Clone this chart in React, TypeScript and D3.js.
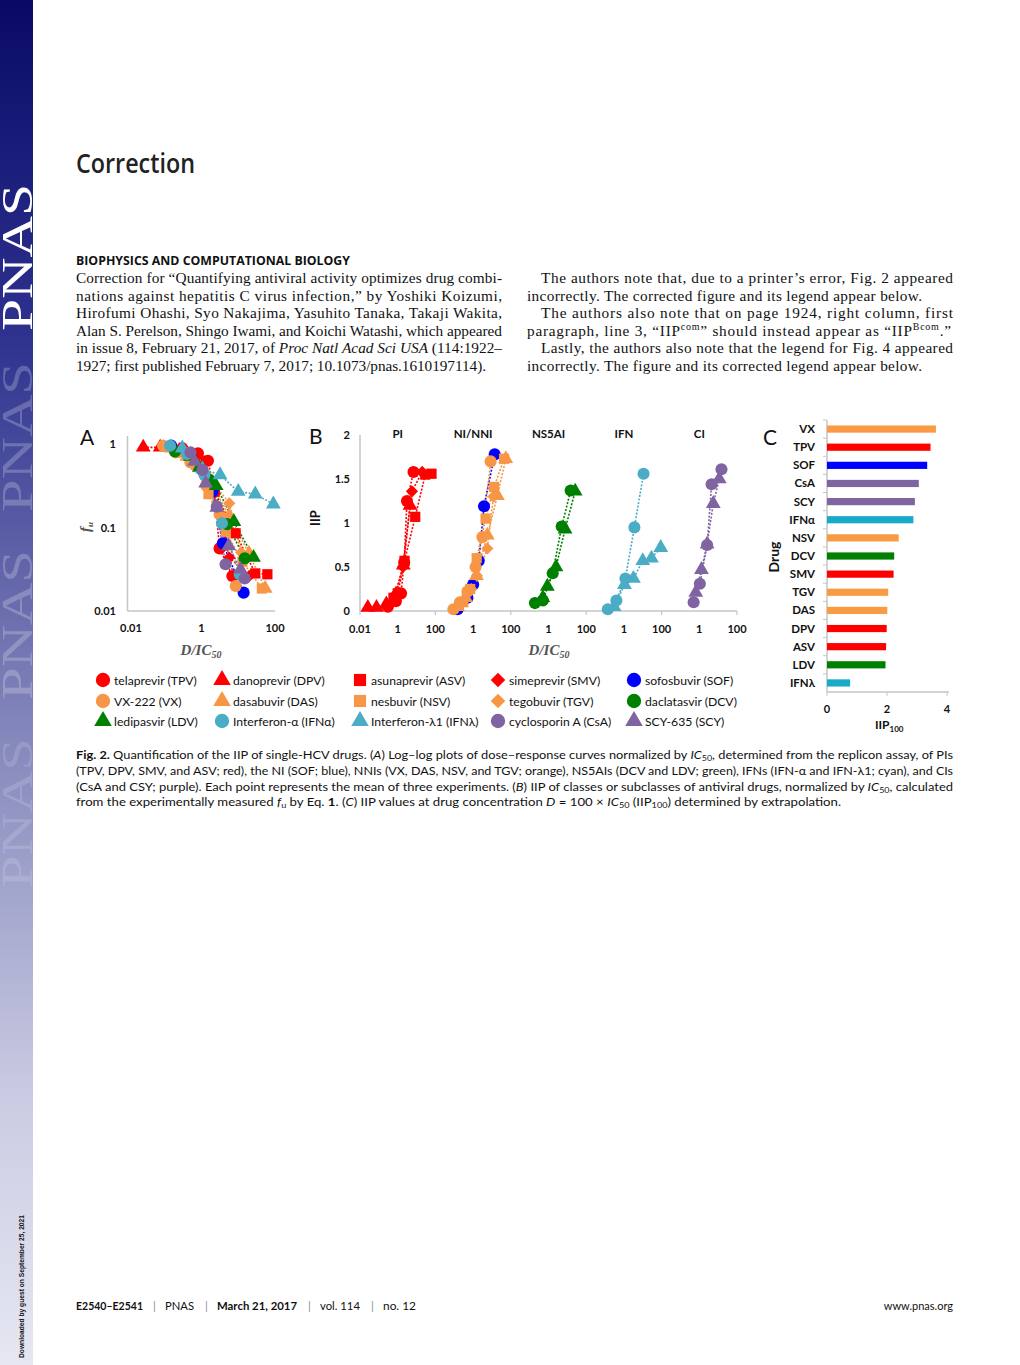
import React from "react";
import * as d3 from "d3";

// ---------------- data ----------------
// legend order (row-major) and drug codes
const drugCodes = ["TPV", "DPV", "ASV", "SMV", "SOF", "VX", "DAS", "NSV", "TGV", "DCV", "LDV", "IFNa", "IFNl", "CsA", "SCY"];
const drugNames = [
  "telaprevir (TPV)", "danoprevir (DPV)", "asunaprevir (ASV)", "simeprevir (SMV)", "sofosbuvir (SOF)",
  "VX-222 (VX)", "dasabuvir (DAS)", "nesbuvir (NSV)", "tegobuvir (TGV)", "daclatasvir (DCV)",
  "ledipasvir (LDV)", "Interferon-α (IFNα)", "Interferon-λ1 (IFNλ)", "cyclosporin A (CsA)", "SCY-635 (SCY)",
];
// points: [D/IC50, IIP]  (fu = 10^-IIP)
const TPV_pts = [[0.3, 0.05], [0.8, 0.11], [1.5, 0.2], [2.2, 0.55], [3.1, 1.25], [6.9, 1.58]];
const DPV_pts = [[0.026, 0.04], [0.075, 0.04], [0.25, 0.08], [0.8, 0.19], [2.0, 0.52], [4.5, 1.2]];
const ASV_pts = [[0.6, 0.15], [1.0, 0.2], [2.3, 0.57], [8.5, 1.07], [29, 1.55], [62, 1.56]];
const SMV_pts = [[0.7, 0.18], [1.9, 0.5], [5.7, 1.36], [20, 1.58]];
const SOF_pts = [[0.15, 0.02], [0.5, 0.15], [1.0, 0.3], [2.0, 0.57], [3.8, 1.19], [14, 1.78]];
const VX_pts = [[0.09, 0.02], [0.2, 0.1], [0.5, 0.22], [1.35, 0.5], [3.1, 0.84], [8.5, 1.7]];
const DAS_pts = [[0.15, 0.05], [0.4, 0.15], [1.5, 0.4], [5.7, 0.86], [19.5, 1.31], [54, 1.73]];
const NSV_pts = [[0.3, 0.1], [0.7, 0.25], [1.55, 0.6], [4.6, 1.05], [13, 1.41], [44, 1.73]];
const TGV_pts = [[0.25, 0.1], [0.8, 0.25], [1.6, 0.4], [5.7, 0.71], [12, 1.3]];
const DCV_pts = [[0.19, 0.09], [0.5, 0.12], [1.67, 0.43], [5.0, 0.96], [15, 1.37]];
const LDV_pts = [[0.5, 0.15], [0.87, 0.28], [2.5, 0.5], [7.6, 0.93], [26, 1.36]];
const IFNa_pts = [[0.14, 0.02], [0.4, 0.12], [1.2, 0.37], [3.6, 0.95], [11, 1.56]];
const IFNl_pts = [[0.3, 0.05], [1.07, 0.3], [3.2, 0.37], [10, 0.57], [29, 0.6], [90, 0.72]];
const CsA_pts = [[0.5, 0.1], [1.07, 0.31], [2.6, 0.75], [4.5, 1.44], [15, 1.61]];
const SCY_pts = [[0.65, 0.21], [1.3, 0.47], [2.6, 0.76], [5.5, 1.22], [11.5, 1.5]];
const drugPoints = [TPV_pts, DPV_pts, ASV_pts, SMV_pts, SOF_pts, VX_pts, DAS_pts, NSV_pts, TGV_pts, DCV_pts, LDV_pts, IFNa_pts, IFNl_pts, CsA_pts, SCY_pts];
// class group index in panel B
const drugGroup = [0, 0, 0, 0, 1, 1, 1, 1, 1, 2, 2, 3, 3, 4, 4];
const groupTitles = ["PI", "NI/NNI", "NS5AI", "IFN", "CI"];

// panel C
const barCats = ["VX", "TPV", "SOF", "CsA", "SCY", "IFNα", "NSV", "DCV", "SMV", "TGV", "DAS", "DPV", "ASV", "LDV", "IFNλ"];
const barVals = [3.63, 3.45, 3.34, 3.06, 2.93, 2.88, 2.39, 2.24, 2.22, 2.04, 2.01, 1.99, 1.97, 1.95, 0.77];
const barClass = ["nni", "pi", "ni", "ci", "ci", "ifn", "nni", "ns5a", "pi", "nni", "nni", "pi", "pi", "ns5a", "ifn"];

const aXTicks = [0.01, 1, 100];
const aYTicks = [1, 0.1, 0.01];
const bYTicks = [0, 0.5, 1, 1.5, 2];
const cXTicks = [0, 2, 4];

// ---------------- styles ----------------
const classColor: Record<string, string> = {
  pi: "#ff0000", ni: "#0000ff", nni: "#f79646", ns5a: "#008000", ifn: "#4bacc6", ci: "#8064a2",
};
const barColor: Record<string, string> = { ...classColor, ifn: "#17aac9", nni: "#f99a45" };
const drugClass = ["pi", "pi", "pi", "pi", "ni", "nni", "nni", "nni", "nni", "ns5a", "ns5a", "ifn", "ifn", "ci", "ci"];
const drugShape = ["circle", "triangle", "square", "diamond", "circle", "circle", "triangle", "square", "diamond", "circle", "triangle", "circle", "triangle", "circle", "triangle"];

const symType: Record<string, any> = {
  circle: d3.symbolCircle, triangle: d3.symbolTriangle, square: d3.symbolSquare, diamond: (d3 as any).symbolDiamond2 || d3.symbolDiamond,
};
const symSize: Record<string, number> = { circle: 115, triangle: 95, square: 105, diamond: 95 };
const sym = (shape: string, scale = 1) => d3.symbol().type(symType[shape]).size(symSize[shape] * scale)()!;

const SANS = "Lato, 'Open Sans', sans-serif";
const SERIF = "'Liberation Serif', 'DejaVu Serif', serif";
const AXIS = "#c6c6c6";

// scales
const xA = d3.scaleLog().domain([0.01, 100]).range([128, 275]);
const yA = d3.scaleLog().domain([0.01, 1]).range([611, 444]);
const xB = d3.scaleLinear().domain([-2, 18]).range([360, 737]);
const yB = d3.scaleLinear().domain([0, 2]).range([611, 435]);
const yC = d3.scaleBand().domain(barCats).range([420, 692]);
const xC = d3.scaleLinear().domain([0, 4]).range([827, 947]);

const fu = (iip: number) => Math.pow(10, -iip);
const bx = (x: number, g: number) => xB(Math.log10(x) + 4 * g);

function Sidebar() {
  return (
    <g>
      <defs>
        <linearGradient id="sb" x1="0" y1="0" x2="0" y2="1">
          <stop offset="0" stopColor="#080a66" />
          <stop offset="0.25" stopColor="#2f338f" />
          <stop offset="0.5" stopColor="#7a7db5" />
          <stop offset="0.8" stopColor="#c9cbe2" />
          <stop offset="1" stopColor="#e6e7f2" />
        </linearGradient>
      </defs>
      <rect x={0} y={0} width={33} height={1365} fill="url(#sb)" />
      <text transform="translate(32,331) rotate(-90)" fontFamily={SERIF} fontSize={44} fill="#fff" textLength={147} lengthAdjust="spacingAndGlyphs">PNAS</text>
      {[512, 700, 888].map((y, i) => (
        <text key={i} transform={`translate(32,${y}) rotate(-90)`} fontFamily={SERIF} fontSize={44} fill="#fff" opacity={i === 2 ? 0.14 : 0.22} textLength={150} lengthAdjust="spacingAndGlyphs">PNAS</text>
      ))}
      <text transform="translate(24,1358) rotate(-90)" fontFamily="'Liberation Sans', Arial, sans-serif" fontSize={7.5} fontWeight={700} fill="#111" textLength={143} lengthAdjust="spacingAndGlyphs">Downloaded by guest on September 25, 2021</text>
    </g>
  );
}

function BodyText() {
  const lh = [283, 300.5, 318, 335.5, 353, 370.5];
  const fs = 15.3;
  return (
    <g fontFamily={SERIF} fontSize={fs} fill="#111">
      <text x={76} y={173} fontFamily="'Open Sans', sans-serif" fontSize={27} fontWeight={600} fill="#222" textLength={119} lengthAdjust="spacingAndGlyphs">Correction</text>
      <text x={76} y={265} fontFamily="'Open Sans', sans-serif" fontSize={12.5} fontWeight={700} textLength={274} lengthAdjust="spacingAndGlyphs">BIOPHYSICS AND COMPUTATIONAL BIOLOGY</text>
      <text x={76} y={lh[0]} textLength={426} lengthAdjust="spacing">Correction for “Quantifying antiviral activity optimizes drug combi-</text>
      <text x={76} y={lh[1]} textLength={426} lengthAdjust="spacing">nations against hepatitis C virus infection,” by Yoshiki Koizumi,</text>
      <text x={76} y={lh[2]} textLength={426} lengthAdjust="spacing">Hirofumi Ohashi, Syo Nakajima, Yasuhito Tanaka, Takaji Wakita,</text>
      <text x={76} y={lh[3]} textLength={426} lengthAdjust="spacing">Alan S. Perelson, Shingo Iwami, and Koichi Watashi, which appeared</text>
      <text x={76} y={lh[4]} textLength={426} lengthAdjust="spacing">in issue 8, February 21, 2017, of <tspan fontStyle="italic">Proc Natl Acad Sci USA</tspan> (114:1922–</text>
      <text x={76} y={lh[5]} textLength={410} lengthAdjust="spacing">1927; first published February 7, 2017; 10.1073/pnas.1610197114).</text>

      <text x={541} y={lh[0]} textLength={412} lengthAdjust="spacing">The authors note that, due to a printer’s error, Fig. 2 appeared</text>
      <text x={527} y={lh[1]} textLength={395} lengthAdjust="spacing">incorrectly. The corrected figure and its legend appear below.</text>
      <text x={541} y={lh[2]} textLength={412} lengthAdjust="spacing">The authors also note that on page 1924, right column, first</text>
      <text x={527} y={lh[3]} textLength={424} lengthAdjust="spacing">paragraph, line 3, “IIP<tspan fontSize={10} dy={-6}>com</tspan><tspan dy={6}>” should instead appear as “IIP</tspan><tspan fontSize={10} dy={-6}>Bcom</tspan><tspan dy={6}>.”</tspan></text>
      <text x={541} y={lh[4]} textLength={412} lengthAdjust="spacing">Lastly, the authors also note that the legend for Fig. 4 appeared</text>
      <text x={527} y={lh[5]} textLength={395} lengthAdjust="spacing">incorrectly. The figure and its corrected legend appear below.</text>
    </g>
  );
}

function DLabel({ x }: { x: number }) {
  return (
    <text x={x} y={655} textAnchor="middle" fontFamily={SERIF} fontStyle="italic" fontWeight={700} fontSize={15} fill="#555">D/IC<tspan fontSize={10} dy={3}>50</tspan></text>
  );
}

function PanelA() {
  const line = d3.line<number[]>().x((d) => xA(d[0])).y((d) => yA(fu(d[1])));
  return (
    <g>
      <text x={80} y={445} fontFamily={SANS} fontSize={21} fill="#111">A</text>
      <line x1={127.5} x2={127.5} y1={436} y2={611} stroke={AXIS} strokeWidth={1.5} />
      <line x1={127.5} x2={275} y1={611} y2={611} stroke={AXIS} strokeWidth={1.5} />
      {aYTicks.map((t) => (
        <text key={t} x={116} y={yA(t) + 4} textAnchor="end" fontFamily={SANS} fontWeight={700} fontSize={11} fill="#111">{t}</text>
      ))}
      {aXTicks.map((t) => (
        <text key={t} x={xA(t) + (t === 0.01 ? 3 : 0)} y={632} textAnchor="middle" fontFamily={SANS} fontWeight={700} fontSize={11} fill="#111">{t}</text>
      ))}
      <text transform="translate(90,527) rotate(-90)" textAnchor="middle" fontFamily={SERIF} fontStyle="italic" fontWeight={700} fontSize={15} fill="#555">f<tspan fontSize={9} dy={3}>u</tspan></text>
      <DLabel x={201} />
      {drugPoints.map((pts, i) => (
        <path key={"l" + i} d={line(pts)!} fill="none" stroke={classColor[drugClass[i]]} strokeWidth={1.6} strokeDasharray="2,1.6" />
      ))}
      {drugPoints.map((pts, i) =>
        pts.map((d, j) => (
          <path key={i + "-" + j} d={sym(drugShape[i])} transform={`translate(${xA(d[0])},${yA(fu(d[1]))})`} fill={classColor[drugClass[i]]} />
        ))
      )}
    </g>
  );
}

function PanelB() {
  const groupEdges = [-2, 2, 6, 10, 14, 18];
  return (
    <g>
      <text x={309} y={444} fontFamily={SANS} fontSize={21} fill="#111">B</text>
      <line x1={360} x2={360} y1={435} y2={611} stroke={AXIS} strokeWidth={1.5} />
      <line x1={360} x2={737} y1={611} y2={611} stroke={AXIS} strokeWidth={1.5} />
      {groupEdges.map((e) => (
        <line key={e} x1={xB(e)} x2={xB(e)} y1={611} y2={615} stroke={AXIS} strokeWidth={1.2} />
      ))}
      {bYTicks.map((t) => (
        <text key={t} x={350} y={yB(t) + 4} textAnchor="end" fontFamily={SANS} fontWeight={700} fontSize={11} fill="#111">{t}</text>
      ))}
      {groupTitles.map((g, gi) => (
        <g key={g}>
          <text x={xB(4 * gi)} y={438} textAnchor="middle" fontFamily={SANS} fontWeight={700} fontSize={11.5} fill="#111">{g}</text>
          {(gi === 0 ? [0.01, 1, 100] : [1, 100]).map((t) => (
            <text key={t} x={bx(t, gi)} y={633} textAnchor="middle" fontFamily={SANS} fontWeight={700} fontSize={11} fill="#111">{t}</text>
          ))}
        </g>
      ))}
      <text transform="translate(320,518) rotate(-90)" textAnchor="middle" fontFamily={SANS} fontWeight={700} fontSize={13} fill="#111">IIP</text>
      <DLabel x={549} />
      {drugPoints.map((pts, i) => {
        const line = d3.line<number[]>().x((d) => bx(d[0], drugGroup[i])).y((d) => yB(d[1]));
        return <path key={"l" + i} d={line(pts)!} fill="none" stroke={classColor[drugClass[i]]} strokeWidth={1.6} strokeDasharray="2,1.6" />;
      })}
      {drugPoints.map((pts, i) =>
        pts.map((d, j) => (
          <path key={i + "-" + j} d={sym(drugShape[i])} transform={`translate(${bx(d[0], drugGroup[i])},${yB(d[1])})`} fill={classColor[drugClass[i]]} />
        ))
      )}
    </g>
  );
}

function PanelC() {
  const step = yC.step();
  return (
    <g>
      <text x={763} y={445} fontFamily={SANS} fontSize={21} fill="#111">C</text>
      <line x1={827} x2={827} y1={420} y2={692} stroke={AXIS} strokeWidth={1.5} />
      <line x1={827} x2={949} y1={692} y2={692} stroke={AXIS} strokeWidth={1.5} />
      {barCats.map((c, i) => (
        <line key={"t" + i} x1={823} x2={827} y1={(yC(c) as number)} y2={(yC(c) as number)} stroke={AXIS} strokeWidth={1} />
      ))}
      {cXTicks.map((t) => (
        <g key={t}>
          <line x1={xC(t)} x2={xC(t)} y1={692} y2={696} stroke={AXIS} strokeWidth={1} />
          <text x={xC(t)} y={713} textAnchor="middle" fontFamily={SANS} fontWeight={700} fontSize={11} fill="#111">{t}</text>
        </g>
      ))}
      {barCats.map((c, i) => {
        const cy = (yC(c) as number) + step / 2;
        return (
          <g key={c}>
            <rect x={xC(0)} y={cy - 3.6} width={xC(barVals[i]) - xC(0)} height={7.2} fill={barColor[barClass[i]]} />
            <text x={815} y={cy + 4} textAnchor="end" fontFamily={SANS} fontWeight={700} fontSize={11.5} fill="#111">{c}</text>
          </g>
        );
      })}
      <text transform="translate(779,557) rotate(-90)" textAnchor="middle" fontFamily={SANS} fontWeight={700} fontSize={14} fill="#111">Drug</text>
      <text x={875} y={729} fontFamily={SANS} fontWeight={700} fontSize={12} fill="#111">IIP<tspan fontSize={8} dy={3}>100</tspan></text>
    </g>
  );
}

function Legend() {
  const xs = [103, 222, 360, 498, 634];
  const ys = [680, 701, 721];
  return (
    <g>
      {drugCodes.map((c, i) => {
        const col = i % 5, row = Math.floor(i / 5);
        return (
          <g key={c} transform={`translate(${xs[col]},${ys[row]})`}>
            <path d={sym(drugShape[i], 1.4)} fill={classColor[drugClass[i]]} />
            <text x={11} y={4.5} fontFamily={SANS} fontSize={12.2} fill="#111">{drugNames[i]}</text>
          </g>
        );
      })}
    </g>
  );
}

function Caption() {
  const ys = [759, 775, 790.5, 806];
  const fs = 11.6;
  return (
    <g fontFamily={SANS} fontSize={fs} fill="#111">
      <text x={76} y={ys[0]} textLength={877} lengthAdjust="spacingAndGlyphs"><tspan fontWeight={700}>Fig. 2.</tspan>{"    "}Quantification of the IIP of single-HCV drugs. (<tspan fontStyle="italic">A</tspan>) Log–log plots of dose–response curves normalized by <tspan fontStyle="italic">IC</tspan><tspan fontSize={8} dy={2}>50</tspan><tspan dy={-2}>, determined from the replicon assay, of PIs</tspan></text>
      <text x={76} y={ys[1]} textLength={877} lengthAdjust="spacingAndGlyphs">(TPV, DPV, SMV, and ASV; red), the NI (SOF; blue), NNIs (VX, DAS, NSV, and TGV; orange), NS5AIs (DCV and LDV; green), IFNs (IFN-α and IFN-λ1; cyan), and CIs</text>
      <text x={76} y={ys[2]} textLength={877} lengthAdjust="spacingAndGlyphs">(CsA and CSY; purple). Each point represents the mean of three experiments. (<tspan fontStyle="italic">B</tspan>) IIP of classes or subclasses of antiviral drugs, normalized by <tspan fontStyle="italic">IC</tspan><tspan fontSize={8} dy={2}>50</tspan><tspan dy={-2}>, calculated</tspan></text>
      <text x={76} y={ys[3]} textLength={765} lengthAdjust="spacingAndGlyphs">from the experimentally measured <tspan fontStyle="italic">f</tspan><tspan fontSize={8} dy={2}>u</tspan><tspan dy={-2}> by Eq. </tspan><tspan fontWeight={700}>1</tspan>. (<tspan fontStyle="italic">C</tspan>) IIP values at drug concentration <tspan fontStyle="italic">D</tspan> = 100 × <tspan fontStyle="italic">IC</tspan><tspan fontSize={8} dy={2}>50</tspan><tspan dy={-2}> (IIP</tspan><tspan fontSize={8} dy={2}>100</tspan><tspan dy={-2}>) determined by extrapolation.</tspan></text>
    </g>
  );
}

function Footer() {
  const y = 1310;
  const f = { fontFamily: SANS, fontSize: 11, fill: "#111" } as any;
  const sep = { fontFamily: SANS, fontSize: 11, fill: "#888" } as any;
  return (
    <g>
      <text x={76} y={y} {...f} fontWeight={700} textLength={67} lengthAdjust="spacingAndGlyphs">E2540–E2541</text>
      <text x={153} y={y} {...sep}>|</text>
      <text x={165} y={y} {...f} textLength={29} lengthAdjust="spacingAndGlyphs">PNAS</text>
      <text x={205} y={y} {...sep}>|</text>
      <text x={217} y={y} {...f} fontWeight={700} textLength={80} lengthAdjust="spacingAndGlyphs">March 21, 2017</text>
      <text x={308} y={y} {...sep}>|</text>
      <text x={320} y={y} {...f} textLength={40} lengthAdjust="spacingAndGlyphs">vol. 114</text>
      <text x={371} y={y} {...sep}>|</text>
      <text x={383} y={y} {...f} textLength={33} lengthAdjust="spacingAndGlyphs">no. 12</text>
      <text x={953} y={y} {...f} textAnchor="end">www.pnas.org</text>
    </g>
  );
}

export default function App() {
  return (
    <div style={{ position: "absolute", left: 0, top: 0 }}>
      <svg width={1020} height={1365} style={{ display: "block", background: "#fff" }}>
        <rect width={1020} height={1365} fill="#fff" />
        <Sidebar />
        <BodyText />
        <PanelA />
        <PanelB />
        <PanelC />
        <Legend />
        <Caption />
        <Footer />
      </svg>
    </div>
  );
}
